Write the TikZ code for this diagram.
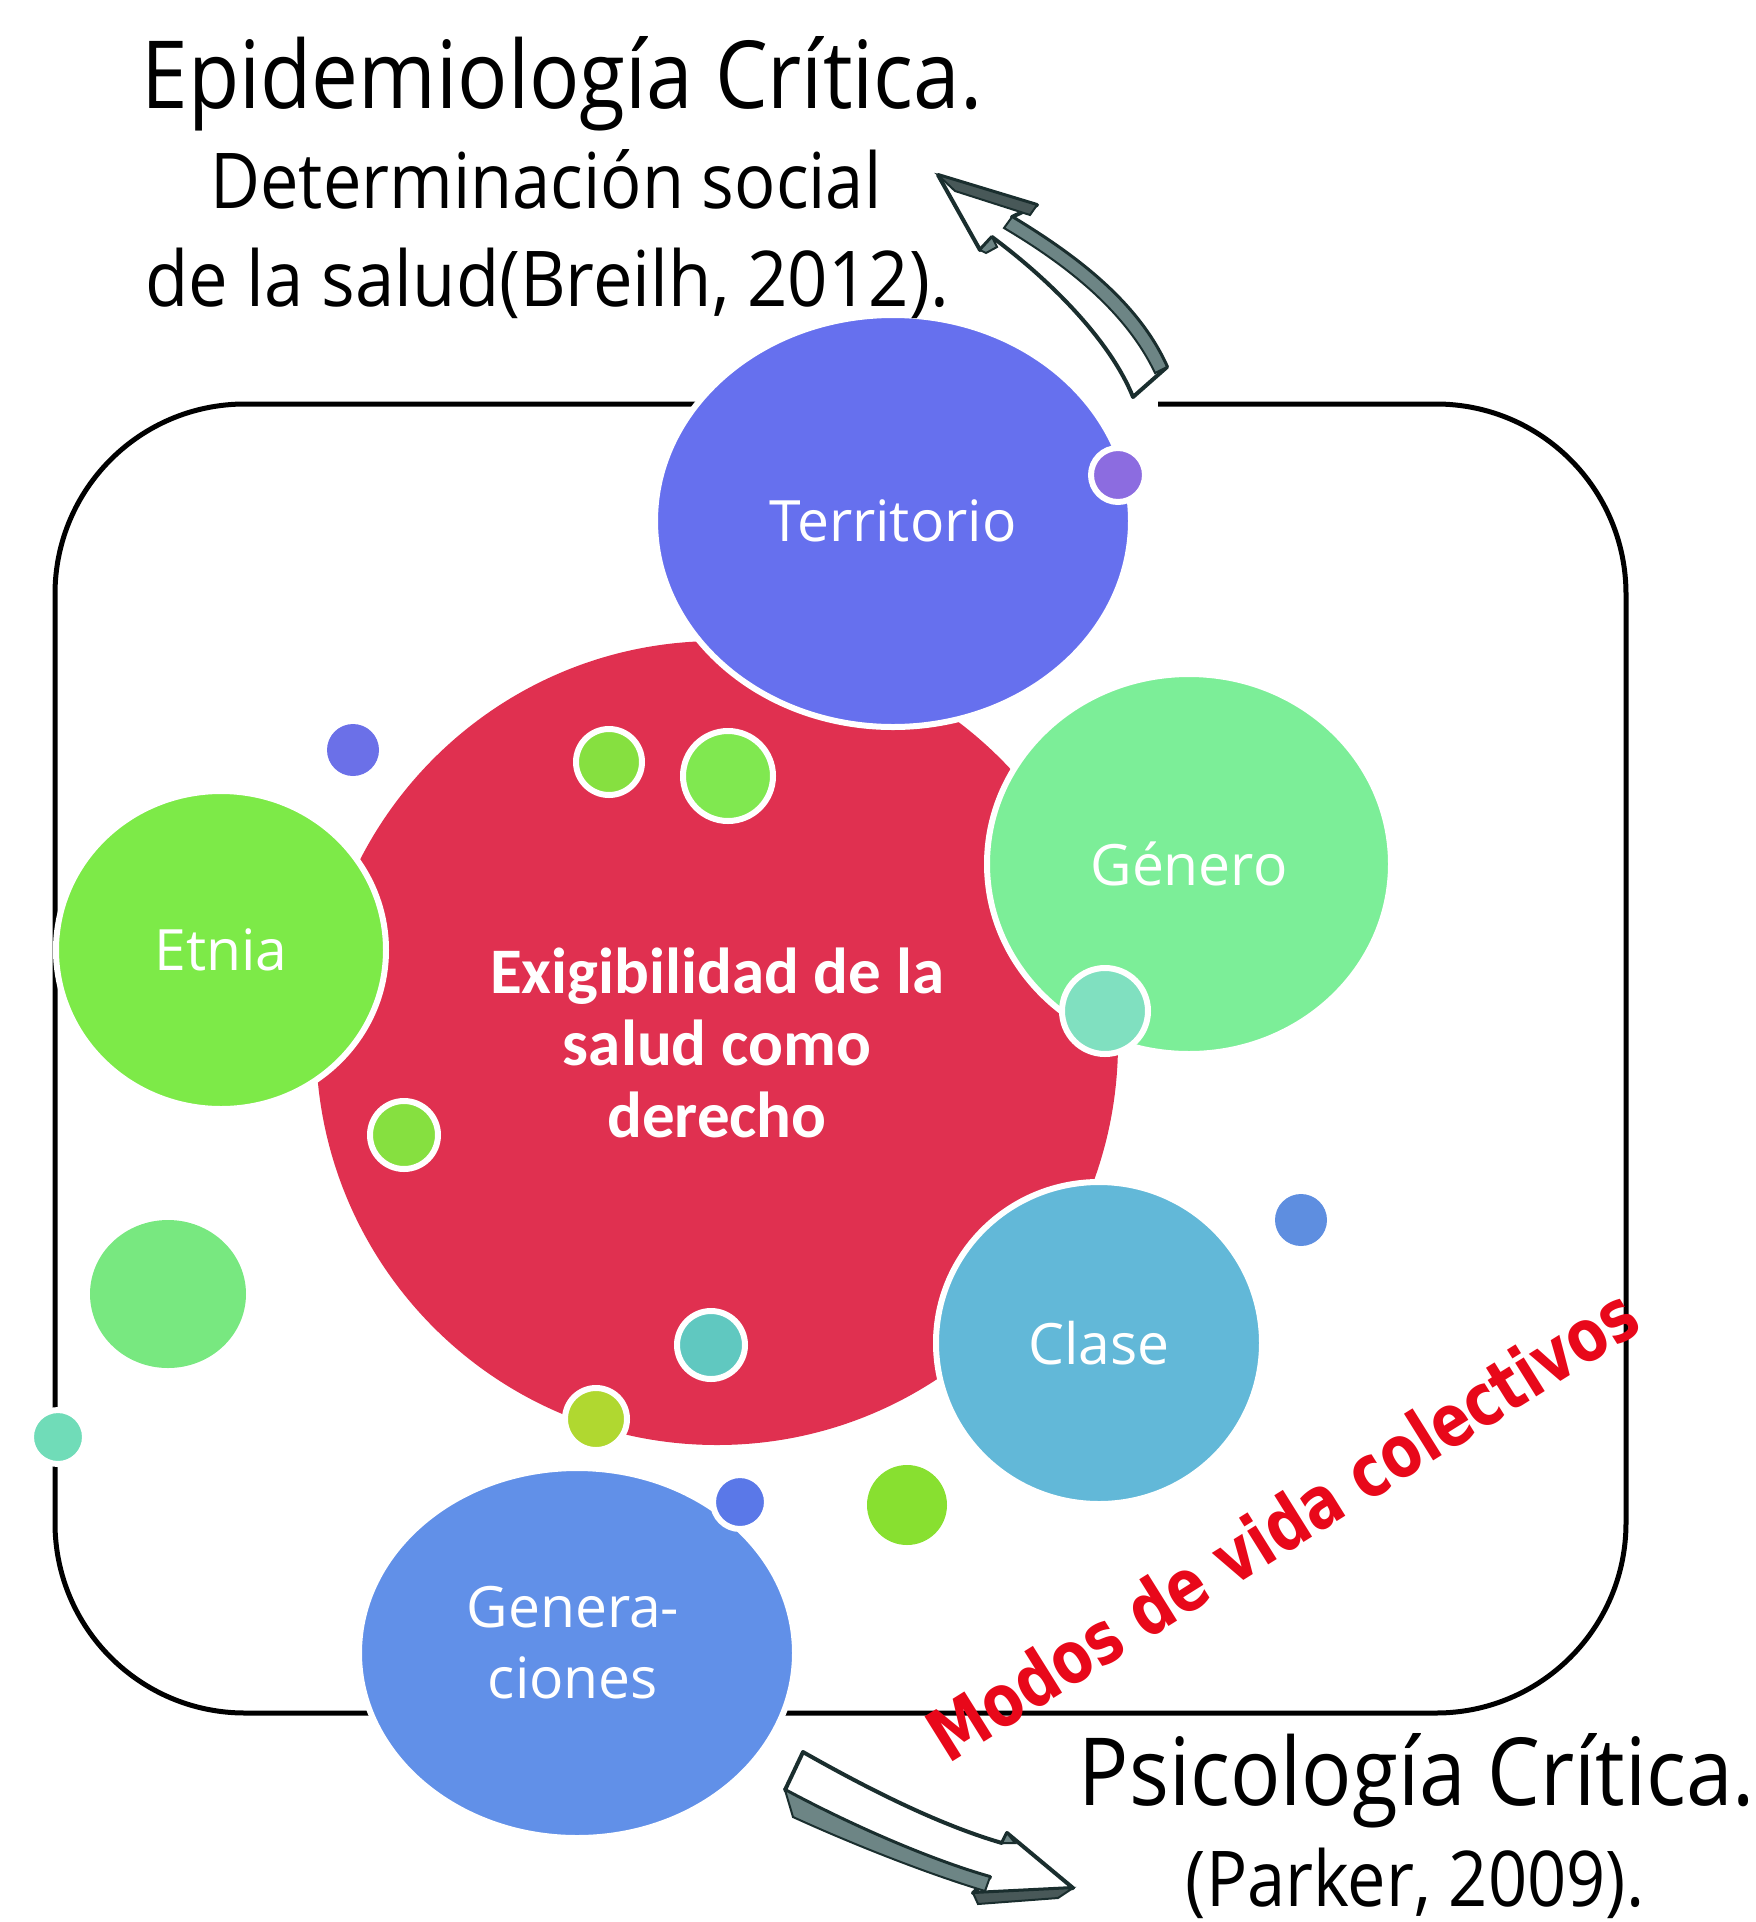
\documentclass[tikz,border=0pt]{standalone}
\usepackage{fontspec}
\setmainfont{Open Sans}
\newfontfamily\titlefont[FakeStretch=0.89]{Open Sans}
\newfontfamily\labelfont{Open Sans}
\newfontfamily\corefont{Carlito}
\newfontfamily\modosfont{DejaVu Sans}
\usetikzlibrary{shapes.geometric}
\definecolor{cRed}{HTML}{E03050}
\definecolor{cTerr}{HTML}{6670EE}
\definecolor{cEtnia}{HTML}{7DEA48}
\definecolor{cGen}{HTML}{7CEE98}
\definecolor{cClase}{HTML}{62B8D8}
\definecolor{cGener}{HTML}{6190E8}
\definecolor{cModos}{HTML}{E8081A}
\definecolor{cPurple}{HTML}{8C6CE0}
\definecolor{cBlueDot}{HTML}{6B70E8}
\definecolor{cLime}{HTML}{86E040}
\definecolor{cLime2}{HTML}{80E850}
\definecolor{cTeal}{HTML}{80E0C0}
\definecolor{cTeal2}{HTML}{60C8C0}
\definecolor{cYel}{HTML}{B0D830}
\definecolor{cBlue2}{HTML}{5E8EE0}
\definecolor{cMint}{HTML}{78E880}
\definecolor{cTeal3}{HTML}{70DCB8}
\definecolor{cBlue3}{HTML}{5A78E8}
\definecolor{cLime3}{HTML}{88E030}
\definecolor{arrowline}{HTML}{1A2E2E}
\definecolor{arrowband}{HTML}{6D8585}
\tikzset{
  big/.style={ellipse, inner sep=0pt, draw=white, line width=3pt, text=white,
    font=\labelfont\fontsize{28.5}{35.5}\selectfont, align=center},
  lbl/.style={text=white, font=\labelfont\fontsize{28.5}{35.5}\selectfont, align=center},
  ringdot/.style={circle, inner sep=0pt, draw=white, line width=3pt},
  plaindot/.style={circle, inner sep=0pt},
  frame/.style={draw=black, line width=2.5pt, rounded corners=95pt},
  sketcharrow/.style={fill=white, draw=arrowline, line width=2pt, line join=round},
  band/.style={fill=arrowband, draw=arrowline, line width=1pt},
  bigtitle/.style={anchor=base, font=\titlefont\fontsize{47}{56}\selectfont},
  smalltitle/.style={anchor=base, font=\titlefont\fontsize{38.5}{46}\selectfont},
}
\begin{document}
\begin{tikzpicture}[x=0.5pt,y=-0.5pt]
\useasboundingbox (0,0) rectangle (1756,1922);
% frame
\draw[frame] (55,404) rectangle (1626,1713);
% white background of the upper arrow picture
\fill[white] (1085,385) rectangle (1158,412);

% central circle and the five main circles
\node[big, fill=cRed, draw=none, minimum width=401pt, minimum height=402pt,
      font=\corefont\bfseries\fontsize{32.5}{36}\selectfont] (core) at (717,1043)
      {Exigibilidad de la\\salud como\\derecho};
\node[big, fill=cTerr, minimum width=238pt, minimum height=206pt] (terr) at (893,521) {Territorio};
\node[big, fill=cEtnia, minimum width=165pt, minimum height=159pt] (etnia) at (221,950) {Etnia};
\node[big, fill=cGen, minimum width=202pt, minimum height=190pt] (genero) at (1189,864) {Género};
\node[big, fill=cClase, minimum width=163pt, minimum height=161pt] (clase) at (1099,1343) {Clase};
\node[big, fill=cGener, minimum width=218pt, minimum height=185pt] (gener) at (577,1653) {};
\node[lbl] (generlbl) at (573,1643) {Genera-\\ciones};

% small circles
\node[ringdot, fill=cPurple, minimum size=27pt] (d1) at (1118,475) {};
\node[plaindot, fill=cBlueDot, minimum size=26pt] (d2) at (353,750) {};
\node[ringdot, fill=cLime, minimum size=33pt] (d3) at (609,762) {};
\node[ringdot, fill=cLime2, minimum size=45pt] (d4) at (728,776) {};
\node[ringdot, fill=cTeal, minimum size=43pt] (d5) at (1105,1011) {};
\node[ringdot, fill=cLime, minimum size=34pt] (d6) at (404,1135) {};
\node[ringdot, fill=cTeal2, minimum size=34pt] (d7) at (711,1345) {};
\node[ringdot, fill=cYel, minimum size=31pt] (d8) at (596,1419) {};
\node[plaindot, fill=cBlue2, minimum size=26pt] (d9) at (1301,1220) {};
\node[ellipse, inner sep=0pt, fill=cMint, minimum width=78pt, minimum height=74pt] (d10) at (168,1294) {};
\node[ringdot, fill=cTeal3, minimum size=27pt] (d11) at (58,1437) {};
\node[ringdot, fill=cBlue3, minimum size=27pt] (d12) at (740,1502) {};
\node[plaindot, fill=cLime3, minimum size=40pt] (d13) at (907,1505) {};

% rotated label
\node[rotate=32, text=cModos, inner sep=0pt, font=\modosfont\bfseries\fontsize{29}{34}\selectfont] (modos) at (1282,1524) {\scalebox{1}[1.25]{Modos de vida colectivos}};

% titles
\node[bigtitle] (t1) at (562,108) {Epidemiología Crítica.};
\node[smalltitle] (t2) at (546,208) {Determinación social};
\node[smalltitle] (t3) at (547,306) {\scalebox{1.03}[1]{de la salud(Breilh, 2012).}};
\node[bigtitle] (b1) at (1417,1805) {Psicología Crítica.};
\node[smalltitle] (b2) at (1415,1906) {(Parker, 2009).};

% upper sketch arrow
\path[sketcharrow] (1133,397) .. controls (1110,340) and (1050,280) .. (992,237)
   -- (980,250) -- (938,175) -- (1037,205) -- (1012,217)
   .. controls (1075,255) and (1138,302) .. (1167,367) -- cycle;
\path[band] (1012,217) .. controls (1075,255) and (1138,302) .. (1167,367)
   -- (1155,373) .. controls (1126,312) and (1068,266) .. (1004,228) -- cycle;
\path[band, fill=arrowline!80] (938,175) -- (1037,205) -- (1030,215) -- (955,191) -- cycle;
\path[band] (980,250) -- (992,237) -- (997,247) -- (986,253) -- cycle;

% lower sketch arrow
\path[sketcharrow] (803,1752) .. controls (870,1790) and (940,1825) .. (1002,1843)
   -- (1007,1833) -- (1073,1888) -- (973,1893) -- (990,1877)
   .. controls (930,1860) and (850,1825) .. (785,1790) -- cycle;
\path[band] (785,1790) .. controls (850,1825) and (930,1860) .. (990,1877)
   -- (985,1891) .. controls (925,1873) and (850,1843) .. (793,1817) -- cycle;
\path[band, fill=arrowline!80] (973,1893) -- (1073,1888) -- (1058,1898) -- (978,1904) -- cycle;
\path[band] (1002,1843) -- (1007,1833) -- (1015,1843) -- cycle;
\end{tikzpicture}
\end{document}
